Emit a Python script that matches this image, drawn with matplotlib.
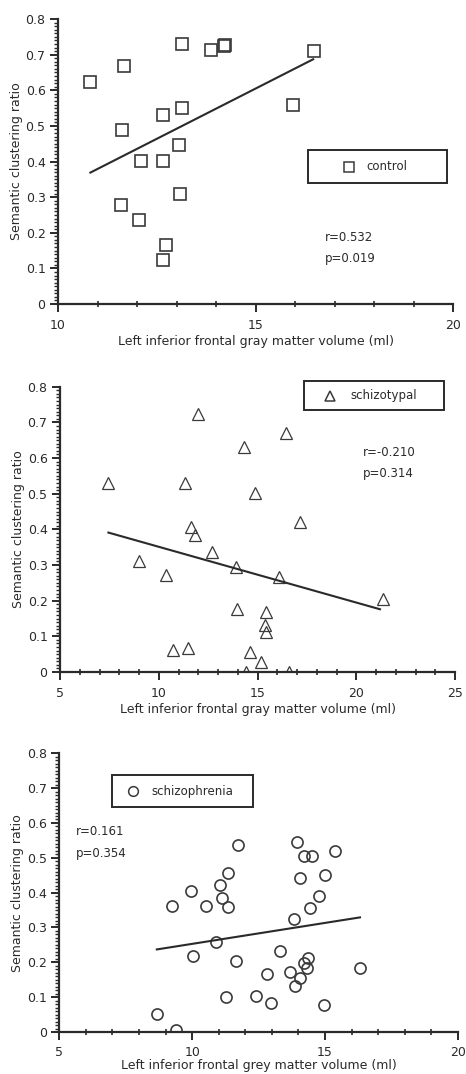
#!/usr/bin/env python3

import matplotlib.pyplot as plt
from matplotlib.patches import Rectangle
from matplotlib.ticker import MultipleLocator
import numpy as np

# control group
ctrl_x = [10.82, 11.68, 11.62, 11.60, 12.10, 12.05, 12.66, 12.66, 12.74, 12.66,
          13.13, 13.13, 13.07, 13.08, 13.88, 14.23, 14.20, 15.94, 16.49]
ctrl_y = [0.624, 0.668, 0.489, 0.277, 0.402, 0.236, 0.531, 0.402, 0.165, 0.124,
          0.730, 0.549, 0.445, 0.309, 0.713, 0.728, 0.724, 0.558, 0.711]
ctrl_fit = ([10.82, 16.46], [0.369, 0.687])

# schizotypal group
stp_x = [7.45, 9.02, 10.35, 10.74, 11.50, 11.35, 11.97, 11.63, 11.84, 12.68,
         13.91, 13.98, 14.33, 14.62, 14.42, 14.89, 15.16, 15.41, 15.38, 15.41,
         16.10, 16.44, 16.58, 17.15, 21.37]
stp_y = [0.529, 0.312, 0.271, 0.062, 0.066, 0.531, 0.723, 0.407, 0.384, 0.336,
         0.295, 0.176, 0.630, 0.057, 0.000, 0.503, 0.029, 0.169, 0.132, 0.111,
         0.267, 0.669, 0.001, 0.420, 0.204]
stp_fit = ([7.45, 21.2], [0.391, 0.176])

# schizophrenia group
scz_x = [8.67, 9.38, 9.23, 9.96, 10.02, 10.51, 11.05, 11.13, 11.35, 11.36,
         10.89, 11.26, 11.66, 11.71, 12.41, 12.80, 12.96, 13.31, 13.70, 13.84,
         13.86, 13.96, 14.05, 14.07, 14.20, 14.34, 14.38, 14.22, 14.53, 14.44,
         14.79, 15.00, 14.97, 15.37, 16.33]
scz_y = [0.052, 0.006, 0.362, 0.405, 0.219, 0.362, 0.423, 0.384, 0.360, 0.455,
         0.257, 0.101, 0.205, 0.537, 0.104, 0.166, 0.082, 0.232, 0.173, 0.324,
         0.132, 0.546, 0.156, 0.441, 0.197, 0.183, 0.211, 0.504, 0.504, 0.355,
         0.389, 0.451, 0.078, 0.520, 0.184]
scz_fit = ([8.67, 16.32], [0.237, 0.329])

ink = "#2a2a2a"
mk = "#3a3a3a"
plt.rcParams['font.family'] = ['DejaVu Sans']

fig = plt.figure(figsize=(4.66, 10.74), dpi=100)


def style_axis(ax, xlim, xmajor, xlabel, xpad=5, lpad=2):
    ax.set_xlim(xlim)
    ax.set_ylim(0, 0.8)
    ax.spines['top'].set_visible(False)
    ax.spines['right'].set_visible(False)
    for s in ('left', 'bottom'):
        ax.spines[s].set_linewidth(1.6)
        ax.spines[s].set_color(ink)
    ax.xaxis.set_major_locator(MultipleLocator(xmajor))
    ax.xaxis.set_minor_locator(MultipleLocator(1))
    ax.yaxis.set_major_locator(MultipleLocator(0.1))
    ax.yaxis.set_minor_locator(MultipleLocator(0.01))
    ax.yaxis.set_major_formatter(plt.FuncFormatter(lambda v, p: "0" if v == 0 else f"{v:.1f}"))
    ax.tick_params(which='major', direction='out', length=6, width=1.4, color=ink,
                   labelsize=9, labelcolor=ink)
    ax.tick_params(axis='x', which='major', pad=xpad)
    ax.tick_params(axis='y', which='major', pad=3)
    ax.tick_params(axis='x', which='minor', direction='inout', length=4, width=1.2, color=ink)
    ax.tick_params(axis='y', which='minor', direction='out', length=3, width=1.0, color=ink)
    ax.set_xlabel(xlabel, fontsize=9, color=ink, labelpad=lpad)
    ax.set_ylabel("Semantic clustering ratio", fontsize=9, color=ink, labelpad=2)


def legend_box(ax, box, marker, label, mpos, tpos):
    x0, y0, w, h = box
    ax.add_patch(Rectangle((x0, y0), w, h, transform=ax.transAxes, fill=False,
                           edgecolor=ink, linewidth=1.4, clip_on=False))
    ax.plot([x0 + mpos * w], [y0 + h / 2], marker=marker, ms=7, mfc='none', mec=mk,
            mew=1.1, transform=ax.transAxes, clip_on=False)
    ax.text(x0 + tpos * w, y0 + h / 2, label, transform=ax.transAxes, fontsize=8.5,
            color=ink, va='center', ha='left')


# panel 1: control
ax1 = fig.add_axes([0.1245, 0.7169, 0.8476, 0.2654])
ax1.plot(ctrl_x, ctrl_y, 's', ms=8, mfc='none', mec=mk, mew=1.2)
ax1.plot(*ctrl_fit, color=ink, lw=1.5)
style_axis(ax1, (10, 20), 5, "Left inferior frontal gray matter volume (ml)")
legend_box(ax1, (0.634, 0.424, 0.352, 0.117), 's', "control", 0.29, 0.42)
ax1.text(16.76, 0.188, "r=0.532", fontsize=8.5, color=ink, va='center')
ax1.text(16.76, 0.129, "p=0.019", fontsize=8.5, color=ink, va='center')

# panel 2: schizotypal
ax2 = fig.add_axes([0.1288, 0.3743, 0.8476, 0.2656])
ax2.plot(stp_x, stp_y, '^', ms=8, mfc='none', mec=mk, mew=0.9)
ax2.plot(*stp_fit, color=ink, lw=1.5)
style_axis(ax2, (5, 25), 5, "Left inferior frontal gray matter volume (ml)")
legend_box(ax2, (0.617, 0.917, 0.356, 0.102), '^', "schizotypal", 0.19, 0.33)
ax2.text(20.36, 0.615, "r=-0.210", fontsize=8.5, color=ink, va='center')
ax2.text(20.36, 0.557, "p=0.314", fontsize=8.5, color=ink, va='center')

# panel 3: schizophrenia
ax3 = fig.add_axes([0.1273, 0.0391, 0.855, 0.2595])
ax3.plot(scz_x, scz_y, 'o', ms=8, mfc='none', mec=mk, mew=1.2)
ax3.plot(*scz_fit, color=ink, lw=1.5)
style_axis(ax3, (5, 20), 5, "Left inferior frontal grey matter volume (ml)", xpad=4, lpad=0)
legend_box(ax3, (0.133, 0.806, 0.354, 0.116), 'o', "schizophrenia", 0.15, 0.28)
ax3.text(5.63, 0.575, "r=0.161", fontsize=8.5, color=ink, va='center')
ax3.text(5.63, 0.513, "p=0.354", fontsize=8.5, color=ink, va='center')

fig.savefig('out.png', dpi=100)
